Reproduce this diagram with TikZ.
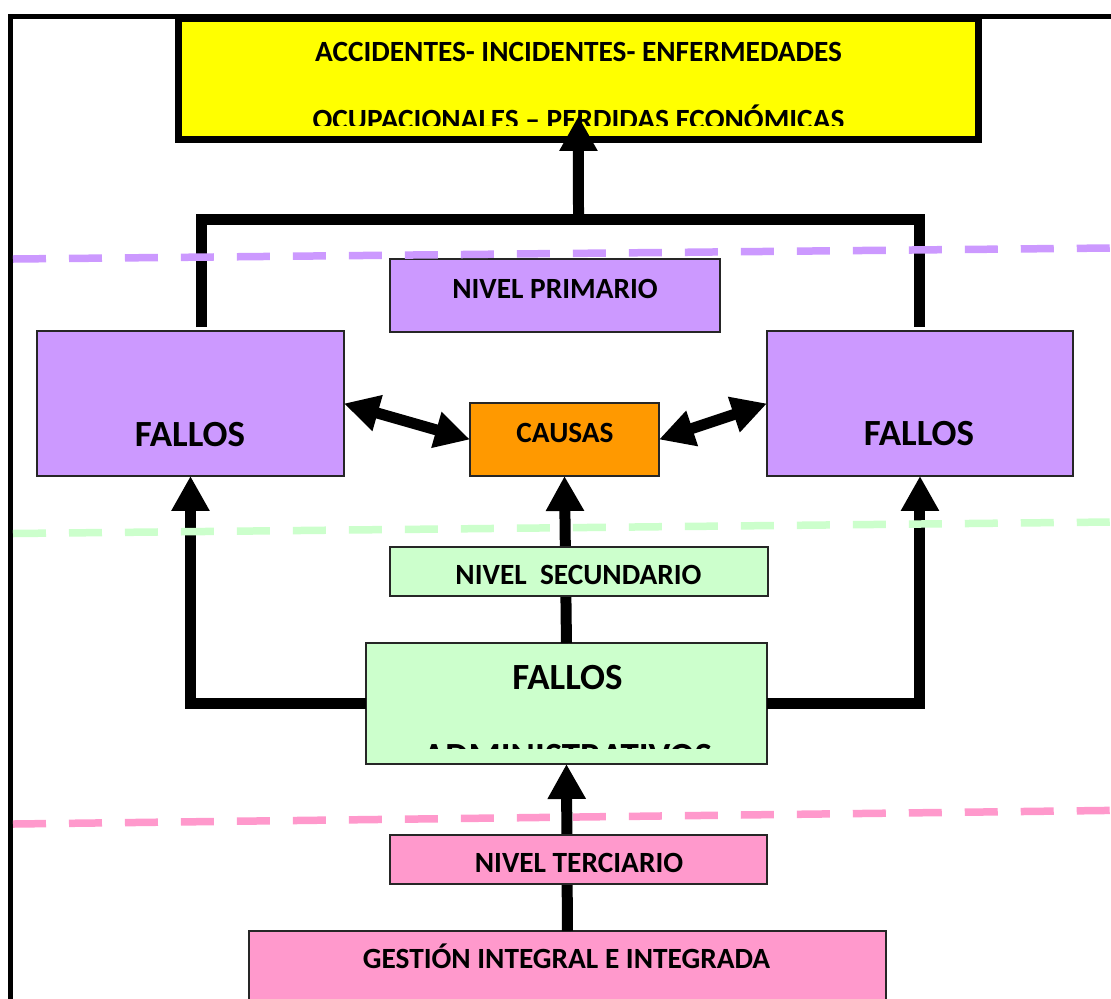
\documentclass[tikz,border=0pt]{standalone}
\usepackage{fontspec}
\setmainfont{Carlito}
\usetikzlibrary{arrows.meta}
\definecolor{cyel}{HTML}{FFFF00}
\definecolor{cpur}{HTML}{CC99FF}
\definecolor{cora}{HTML}{FF9900}
\definecolor{cgre}{HTML}{CCFFCC}
\definecolor{cpin}{HTML}{FF99CC}
\begin{document}
\begin{tikzpicture}[x=0.02cm,y=-0.02cm,
  box/.style={draw=black!85, line width=0.7pt, inner sep=0pt, outer sep=0pt, anchor=north west},
  conn/.style={line width=0.22cm, draw=black},
  arr/.style={conn, -{Triangle[width=0.72cm,length=0.7cm]}},
  darr/.style={conn, {Triangle[width=0.7cm,length=0.7cm]}-{Triangle[width=0.7cm,length=0.7cm]}},
  dashline/.style={line width=0.15cm, dash pattern=on 0.66cm off 0.46cm},
  txt/.style={inner sep=0pt, outer sep=0pt, anchor=base, font=\fontsize{16.7}{20}\selectfont\bfseries},
  big/.style={txt, font=\fontsize{21}{25}\selectfont\bfseries}]
\clip (0,0) rectangle (1111,998);
\fill[white] (0,0) rectangle (1111,998);
% outer frame
\draw[line width=0.1cm] (10.5,1010) -- (10.5,16.5) -- (1120,16.5);
% boxes
\node[box, draw=black, line width=0.15cm, fill=cyel, minimum width=16cm, minimum height=2.42cm] (acc) at (178.5,18.5) {};
\node[box, fill=cpur, minimum width=6.6cm, minimum height=1.46cm] (np) at (390,259) {};
\node[box, fill=cpur, minimum width=6.14cm, minimum height=2.9cm] (fl) at (37,331) {};
\node[box, fill=cpur, minimum width=6.12cm, minimum height=2.9cm] (fr) at (767,331) {};
\node[box, fill=cora, minimum width=3.78cm, minimum height=1.46cm] (c) at (470,403) {};
\node[box, fill=cgre, minimum width=7.56cm, minimum height=0.98cm] (ns) at (390,547) {};
\node[box, fill=cgre, minimum width=8.02cm, minimum height=2.42cm] (fa) at (366,643) {};
\node[box, fill=cpin, minimum width=7.54cm, minimum height=0.98cm] (nt) at (390,835) {};
\node[box, fill=cpin, minimum width=12.74cm, minimum height=1.58cm] (gi) at (249,931) {};
% connectors
\coordinate (jt) at (578.5,219.5);
\draw[conn] ([xshift=0.22cm,yshift=0.08cm]fl.north) |- (jt) -| ([yshift=0.08cm]fr.north);
\draw[arr] (jt) -- ([yshift=0.47cm]acc.south);
\draw[darr] (fl.east) -- (c.west);
\draw[darr] (c.east) -- (fr.west);
\draw[arr] (fa.north) -- (c.south);
\draw[arr] (fa.west) -| (fl.south);
\draw[arr] (fa.east) -| (fr.south);
\draw[arr] (gi.north) -- (fa.south);
% redraw boxes crossed by connectors
\node[box, fill=cpur, minimum width=6.6cm, minimum height=1.46cm] at (390,259) {};
\node[box, fill=cgre, minimum width=7.56cm, minimum height=0.98cm] at (390,547) {};
\node[box, fill=cpin, minimum width=7.54cm, minimum height=0.98cm] at (390,835) {};
% level lines
\coordinate (pu1) at (13,259); \coordinate (pu2) at (1111,248);
\coordinate (gr1) at (13,533.5); \coordinate (gr2) at (1111,522);
\coordinate (pi1) at (13,824); \coordinate (pi2) at (1111,810.4);
\draw[dashline, cpur] (pu1) -- (pu2);
\draw[dashline, cgre] (gr1) -- (gr2);
\draw[dashline, cpin] (pi1) -- (pi2);
% texts
\node[txt] (acc1) at (578.5,61) {ACCIDENTES- INCIDENTES- ENFERMEDADES};
\begin{scope}
\clip (182,20) rectangle (975,125.5);
\node[txt] (acc2) at (578.5,129) {OCUPACIONALES – PERDIDAS ECONÓMICAS};
\end{scope}
\node[txt] (npt) at (555,298) {NIVEL PRIMARIO};
\node[big] (flt) at (190,446) {FALLOS};
\node[big] (frt) at (919,445) {FALLOS};
\node[txt] (ct) at (565,442) {CAUSAS};
\node[txt] (nst) at (578.5,584) {NIVEL\ \ SECUNDARIO};
\node[big] (fat1) at (567.5,689) {FALLOS};
\begin{scope}
\clip (367,644) rectangle (766,748);
\node[big] (fat2) at (567.5,768) {ADMINISTRATIVOS};
\end{scope}
\node[txt] (ntt) at (579,872) {NIVEL TERCIARIO};
\node[txt] (git) at (566.5,968) {GESTIÓN INTEGRAL E INTEGRADA};
\end{tikzpicture}
\end{document}
